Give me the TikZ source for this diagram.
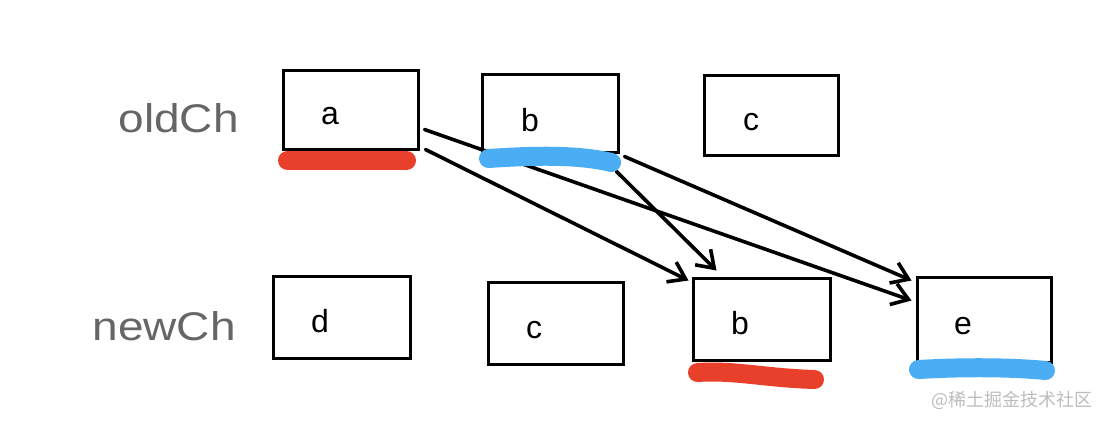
\documentclass[tikz,border=0pt]{standalone}
\usepackage{fontspec}
\setmainfont{Liberation Sans}
\newfontfamily\cjkfont{Noto Sans CJK SC}
\newfontfamily\labelfont[FakeStretch=1.15]{Liberation Sans}
\usetikzlibrary{arrows.meta,calc}
\definecolor{hlred}{HTML}{E8402A}
\definecolor{hlblue}{HTML}{4BAEF4}
\definecolor{labelgray}{HTML}{666666}
\definecolor{markgray}{HTML}{BDBDBD}
\tikzset{
  box/.style={draw=black, line width=3pt, fill=white, inner sep=0pt},
  letter/.style={anchor=base, inner sep=0pt, font=\fontsize{32}{38}\selectfont},
  rowlabel/.style={anchor=base east, inner sep=0pt, text=labelgray, font=\labelfont\fontsize{40}{48}\selectfont},
  conn/.style={draw=black, line width=3.6pt, line cap=round, -{Straight Barb[length=16pt,width=22pt,line width=3.6pt]}},
  bar/.style={line width=19pt, line cap=round},
}
\begin{document}
\begin{tikzpicture}[x=1pt,y=-1pt]
\useasboundingbox[fill=white] (0,0) rectangle (1106,424);
% row labels
\node[rowlabel] (old) at (239,132) {oldCh};
\node[rowlabel] (new) at (236,340) {newCh};
% boxes
\node[box, minimum width=135pt, minimum height=79pt] (a)  at (350.5,109.5) {};
\node[box, minimum width=136pt, minimum height=78pt] (bo) at (550,113) {};
\node[box, minimum width=134pt, minimum height=80pt] (co) at (771,115) {};
\node[box, minimum width=137pt, minimum height=82pt] (d)  at (341.5,317) {};
\node[box, minimum width=135pt, minimum height=82pt] (cn) at (555.5,323) {};
\node[box, minimum width=137pt, minimum height=82pt] (bn) at (761.5,319) {};
\node[box, minimum width=134pt, minimum height=85pt] (e)  at (984,319.5) {};
% letters
\node[letter] (la)  at (330,124) {a};
\node[letter] (lbo) at (530,131) {b};
\node[letter] (lco) at (751,130) {c};
\node[letter] (ld)  at (320,332) {d};
\node[letter] (lcn) at (534,338) {c};
\node[letter] (lbn) at (740,334) {b};
\node[letter] (le)  at (963,334) {e};
% connectors
\draw[conn] ($(a.north east)+(5,61)$) -- ($(e.north west)+(-4,25)$);
\draw[conn] ($(a.north east)+(6,81)$) -- ($(bn.north west)+(-3,4)$);
\draw[conn] ($(bo.south east)+(-3,18)$) -- ($(bn.north west)+(25,-6)$);
\draw[conn] ($(bo.south east)+(5,3)$) -- ($(e.north west)+(-4,5)$);
% highlight bars
\draw[bar, hlred] ($(a.south west)+(6,10)$) -- ($(a.south east)+(-13,10)$);
\draw[bar, hlblue] ($(bo.south west)+(8,5)$) .. controls (540,155) and (580,155) .. ($(bo.south east)+(-8,9)$);
\draw[bar, hlred] ($(bn.south west)+(6,11)$) .. controls (735,370) and (765,378) .. ($(bn.south east)+(-17,18)$);
\draw[bar, hlblue] ($(e.south west)+(3,6)$) .. controls (960,367) and (1010,367) .. ($(e.south east)+(-7,7)$);
% watermark
\node[anchor=center, inner sep=0pt, text=markgray, font=\cjkfont\fontsize{18}{22}\selectfont] (wm) at (1012,400) {@稀土掘金技术社区};
\end{tikzpicture}
\end{document}
